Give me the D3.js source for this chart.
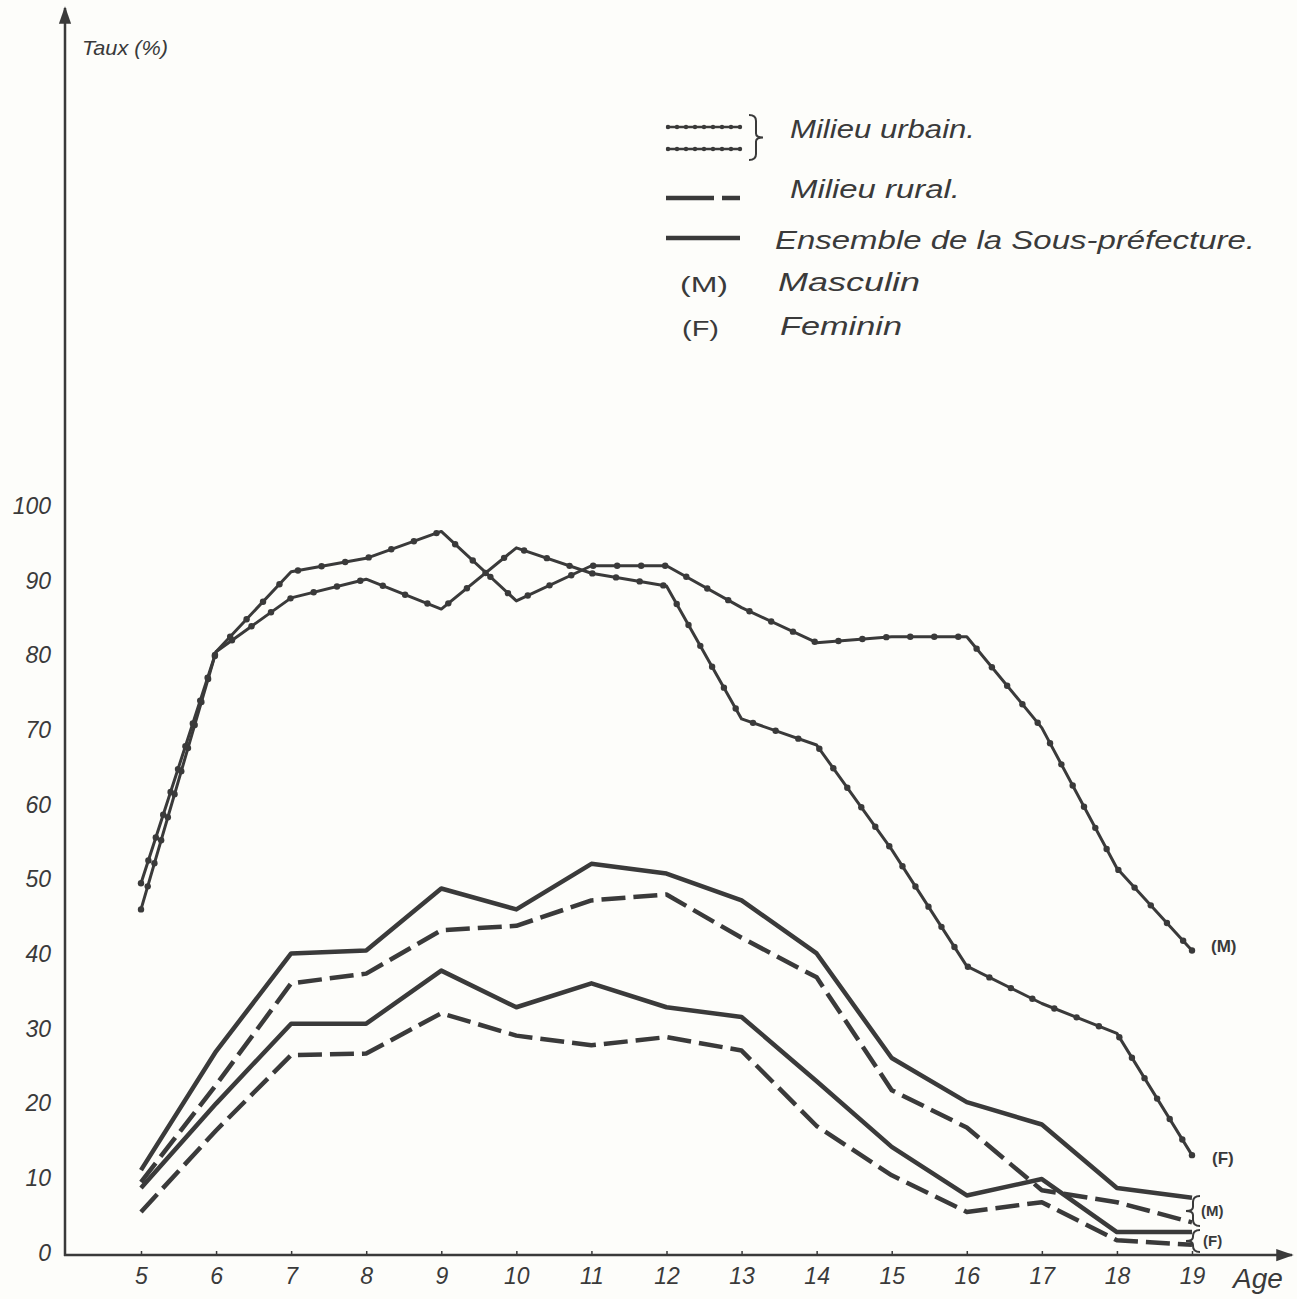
<!DOCTYPE html>
<html><head><meta charset="utf-8">
<script src="https://cdn.jsdelivr.net/npm/d3@7/dist/d3.min.js"></script>
<style>
html,body{margin:0;padding:0;background:#fdfdfa;}
svg{display:block;}
text{font-family:"Liberation Sans","DejaVu Sans",sans-serif;fill:#3a3a3a;}
</style></head>
<body><svg id="c" width="1297" height="1299"></svg>
<script>
const ages = [5,6,7,8,9,10,11,12,13,14,15,16,17,18,19];
const yTicks = [0,10,20,30,40,50,60,70,80,90,100];
const urbainM   = [49.5,80.5,91.2,93.0,96.6,87.3,92.0,92.0,86.4,81.7,82.5,82.5,70.3,51.5,40.5];
const urbainF   = [46.0,80.5,87.7,90.2,86.2,94.4,91.0,89.3,71.5,68.0,54.0,38.4,33.4,29.4,13.1];
const ensembleM = [11.1,27.0,40.1,40.5,48.8,46.0,52.1,50.8,47.2,40.1,26.1,20.2,17.2,8.7,7.4];
const ruralM    = [9.5,22.5,36.1,37.4,43.2,43.8,47.2,48.0,42.2,36.9,21.8,16.8,8.4,6.8,4.1];
const ensembleF = [8.7,20.0,30.7,30.7,37.8,32.9,36.1,32.9,31.6,23.0,14.2,7.7,9.9,2.8,2.8];
const ruralF    = [5.5,16.4,26.5,26.7,32.1,29.1,27.8,28.9,27.1,17.0,10.4,5.5,6.8,1.7,1.1];
const legendItems = ["Milieu urbain.","Milieu rural.","Ensemble de la Sous-préfecture.","Masculin","Feminin"];

const svg = d3.select("#c");
const ink = "#3a3a3a";
const x = d3.scaleLinear().domain([5,19]).range([141,1192]);
const y = d3.scaleLinear().domain([0,100]).range([1253,506]);
const x0 = 65, yBase = 1255;

svg.append("defs").html(`
<marker id="arr" viewBox="0 0 10 10" refX="9" refY="5" markerWidth="7" markerHeight="7" orient="auto">
<path d="M0,1.5 L10,5 L0,8.5 Z" fill="${ink}"/></marker>`);
svg.append("line").attr("x1",x0).attr("y1",yBase+1).attr("x2",x0).attr("y2",8)
  .attr("stroke",ink).attr("stroke-width",2.5).attr("marker-end","url(#arr)");
svg.append("line").attr("x1",x0-1).attr("y1",yBase).attr("x2",1292).attr("y2",yBase)
  .attr("stroke",ink).attr("stroke-width",2.5).attr("marker-end","url(#arr)");

const ya = svg.append("g").attr("transform",`translate(${x0},0)`)
  .call(d3.axisLeft(y).tickValues(yTicks).tickSize(0).tickPadding(14));
ya.select(".domain").remove();
ya.selectAll("text").attr("font-size",23).attr("font-style","italic").style("fill",ink)
  .attr("font-family","Liberation Sans, sans-serif");

const xa = svg.append("g").attr("transform",`translate(0,${yBase})`)
  .call(d3.axisBottom(x).tickValues(ages).tickFormat(d3.format("d")).tickSize(-4).tickPadding(13));
xa.select(".domain").remove();
xa.selectAll("line").attr("stroke",ink).attr("stroke-width",1.5);
xa.selectAll("text").attr("font-size",23).attr("font-style","italic").style("fill",ink)
  .attr("font-family","Liberation Sans, sans-serif");

svg.append("text").attr("x",1258).attr("y",1288).attr("text-anchor","middle")
  .attr("font-size",28).attr("font-style","italic").text("Age");
svg.append("text").attr("x",82).attr("y",55).attr("font-size",21).attr("font-style","italic")
  .attr("textLength",86).attr("lengthAdjust","spacingAndGlyphs").text("Taux (%)");

const line = d3.line().x((d,i)=>x(ages[i])).y(d=>y(d));

function beaded(data, width){
  const p = svg.append("path").datum(data).attr("d",line).attr("fill","none")
    .attr("stroke",ink).attr("stroke-width",width).attr("stroke-linejoin","round").attr("stroke-linecap","round");
  const node = p.node(), L = node.getTotalLength();
  const pts = [];
  for(let l=0; l<=L; l+=24){ pts.push(node.getPointAtLength(l)); }
  pts.push(node.getPointAtLength(L));
  svg.append("g").selectAll("circle").data(pts).join("circle")
    .attr("cx",d=>d.x).attr("cy",d=>d.y).attr("r",3.2).attr("fill",ink);
}
function plain(data, width, dash){
  svg.append("path").datum(data).attr("d",line).attr("fill","none")
    .attr("stroke",ink).attr("stroke-width",width).attr("stroke-linejoin","round")
    .attr("stroke-dasharray",dash||null);
}
plain(ruralF,4.5,"24,8");
plain(ensembleF,4.5);
plain(ruralM,4.5,"24,8");
plain(ensembleM,4.5);
beaded(urbainF,3);
beaded(urbainM,3);

svg.append("text").attr("x",1211).attr("y",952).attr("font-size",17).attr("font-weight","bold")
  .attr("font-family","DejaVu Sans, sans-serif").text("(M)");
svg.append("text").attr("x",1212).attr("y",1164).attr("font-size",17).attr("font-weight","bold")
  .attr("font-family","DejaVu Sans, sans-serif").text("(F)");
function brace(xx, y1, y2, dir){
  const m=(y1+y2)/2, w=7*dir;
  return `M${xx+w},${y1} Q${xx},${y1} ${xx},${y1+6} L${xx},${m-4} Q${xx},${m} ${xx-w},${m} Q${xx},${m} ${xx},${m+4} L${xx},${y2-6} Q${xx},${y2} ${xx+w},${y2}`;
}
svg.append("path").attr("d",brace(1193,1196,1226,1)).attr("fill","none").attr("stroke",ink).attr("stroke-width",2);
svg.append("path").attr("d",brace(1193,1230,1252,1)).attr("fill","none").attr("stroke",ink).attr("stroke-width",2);
svg.append("text").attr("x",1201).attr("y",1216).attr("font-size",15).attr("font-weight","bold")
  .attr("font-family","DejaVu Sans, sans-serif").text("(M)");
svg.append("text").attr("x",1203).attr("y",1246).attr("font-size",15).attr("font-weight","bold")
  .attr("font-family","DejaVu Sans, sans-serif").text("(F)");

const lg = svg.append("g");
function legBeads(yy){
  lg.append("line").attr("x1",666).attr("x2",740).attr("y1",yy).attr("y2",yy).attr("stroke",ink).attr("stroke-width",2.5);
  lg.selectAll(null).data(d3.range(668,741,9)).join("circle")
    .attr("cx",d=>d).attr("cy",yy).attr("r",2.2).attr("fill",ink);
}
legBeads(127); legBeads(149);
lg.append("path").attr("d",brace(756,115,160,-1)).attr("fill","none").attr("stroke",ink).attr("stroke-width",2);
lg.append("line").attr("x1",666).attr("x2",740).attr("y1",198).attr("y2",198).attr("stroke",ink)
  .attr("stroke-width",4.5).attr("stroke-dasharray","48,8");
lg.append("line").attr("x1",666).attr("x2",740).attr("y1",238).attr("y2",238).attr("stroke",ink).attr("stroke-width",4.5);
const lt = [[790,138,185],[790,198,170],[775,249,480],[778,291,142],[780,335,122]];
lt.forEach((p,i)=>{
  lg.append("text").attr("x",p[0]).attr("y",p[1]).attr("font-size",25).attr("font-style","italic")
    .attr("textLength",p[2]).attr("lengthAdjust","spacingAndGlyphs").text(legendItems[i]);
});
lg.append("text").attr("x",680).attr("y",292).attr("font-size",22)
  .attr("textLength",48).attr("lengthAdjust","spacingAndGlyphs").text("(M)");
lg.append("text").attr("x",682).attr("y",336).attr("font-size",22)
  .attr("textLength",37).attr("lengthAdjust","spacingAndGlyphs").text("(F)");
</script></body></html>
